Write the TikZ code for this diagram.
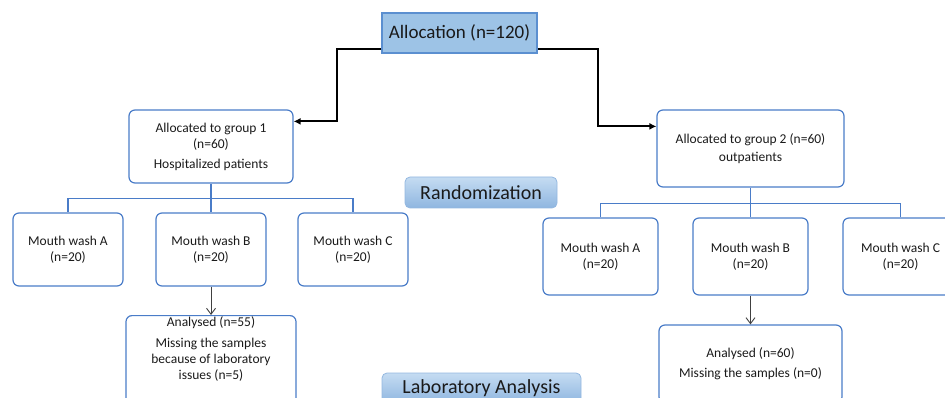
\documentclass[tikz,border=0pt]{standalone}
\usepackage{fontspec}
\setmainfont{Carlito}
\usetikzlibrary{arrows.meta}
\definecolor{boxblue}{HTML}{4A7CC8}
\definecolor{allocfill}{HTML}{9DC3E6}
\definecolor{allocline}{HTML}{5B8FD0}
\definecolor{randtop}{HTML}{C5DCF2}
\definecolor{randbot}{HTML}{8FB6E0}
\definecolor{randline}{HTML}{93B7E0}
\definecolor{inktext}{HTML}{1A1A1A}
\tikzset{
  groupbox/.style={draw=boxblue, line width=1.2pt, rounded corners=6pt, align=center,
    font=\fontsize{13.5}{16}\selectfont, text=inktext},
  washbox/.style={groupbox, minimum width=110pt, minimum height=73pt},
  phasebox/.style={draw=randline, line width=0.8pt, rounded corners=5pt, top color=randtop,
    bottom color=randbot, font=\fontsize{20}{24}\selectfont, text=inktext},
  tree/.style={draw=boxblue, line width=1.2pt},
  allocarrow/.style={line width=2pt, -{Latex[length=7pt,width=7pt]}},
  labarrow/.style={draw=black!75, line width=0.9pt, -{Straight Barb[length=6pt,width=9pt]}}
}
\begin{document}
\begin{tikzpicture}[x=1pt, y=-1pt]
\useasboundingbox (0,0) rectangle (945,398);
\clip (0,0) rectangle (945,398);

\node[draw=allocline, line width=1.2pt, fill=allocfill, minimum width=155pt, minimum height=40pt,
  font=\fontsize{19}{23}\selectfont, text=inktext] (alloc) at (459.5,33) {Allocation (n=120)};

\node[groupbox, minimum width=164pt, minimum height=73pt] (g1) at (211,146.5)
  {Allocated to group 1\\(n=60)\\[4pt]Hospitalized patients};
\node[groupbox, minimum width=187pt, minimum height=77pt] (g2) at (750.5,148.5)
  {Allocated to group 2 (n=60)\\[2pt]outpatients};

\node[phasebox, minimum width=152pt, minimum height=31pt] (rand) at (481,192.5) {Randomization};

% group 1 arms
\node[washbox] (m1a) at (68,249.5) {Mouth wash A\\(n=20)};
\node[washbox] (m1b) at (211,249.5) {Mouth wash B\\(n=20)};
\node[washbox] (m1c) at (353,249.5) {Mouth wash C\\(n=20)};

% group 2 arms
\node[washbox, minimum width=115pt, minimum height=77pt] (m2a) at (600.5,256.5) {Mouth wash A\\(n=20)};
\node[washbox, minimum width=115pt, minimum height=77pt] (m2b) at (750.5,256.5) {Mouth wash B\\(n=20)};
\node[washbox, minimum width=115pt, minimum height=77pt] (m2c) at (900.5,256.5) {Mouth wash C\\(n=20)};

\node[groupbox, anchor=north, inner sep=0pt] (an1) at (211,315)
  {\parbox[t][95pt][t]{170pt}{\centering\vspace{1pt}Analysed (n=55)\\[5pt]Missing the samples\\because of laboratory\\issues (n=5)}};
\node[groupbox, minimum width=183pt, minimum height=78pt] (an2) at (750.5,364)
  {Analysed (n=60)\\[4pt]Missing the samples (n=0)};

\node[phasebox, minimum width=199pt, minimum height=30pt] (lab) at (481.5,388) {Laboratory Analysis};

\draw[allocarrow] ([yshift=5pt]alloc.south west) -- ++(-44,0) |- ([yshift=-12pt]g1.north east);
\draw[allocarrow] ([yshift=5pt]alloc.south east) -- ++(60,0) |- ([yshift=-17pt]g2.north west);

\draw[tree] (g1.south) -- (m1b.north);
\draw[tree] (g1.south) ++(0,15) -| (m1a.north);
\draw[tree] (g1.south) ++(0,15) -| (m1c.north);
\draw[tree] (g2.south) -- (m2b.north);
\draw[tree] (g2.south) ++(0,16) -| (m2a.north);
\draw[tree] (g2.south) ++(0,16) -| (m2c.north);

\draw[labarrow] (m1b.south) -- (an1.north);
\draw[labarrow] (m2b.south) -- (an2.north);
\end{tikzpicture}
\end{document}
